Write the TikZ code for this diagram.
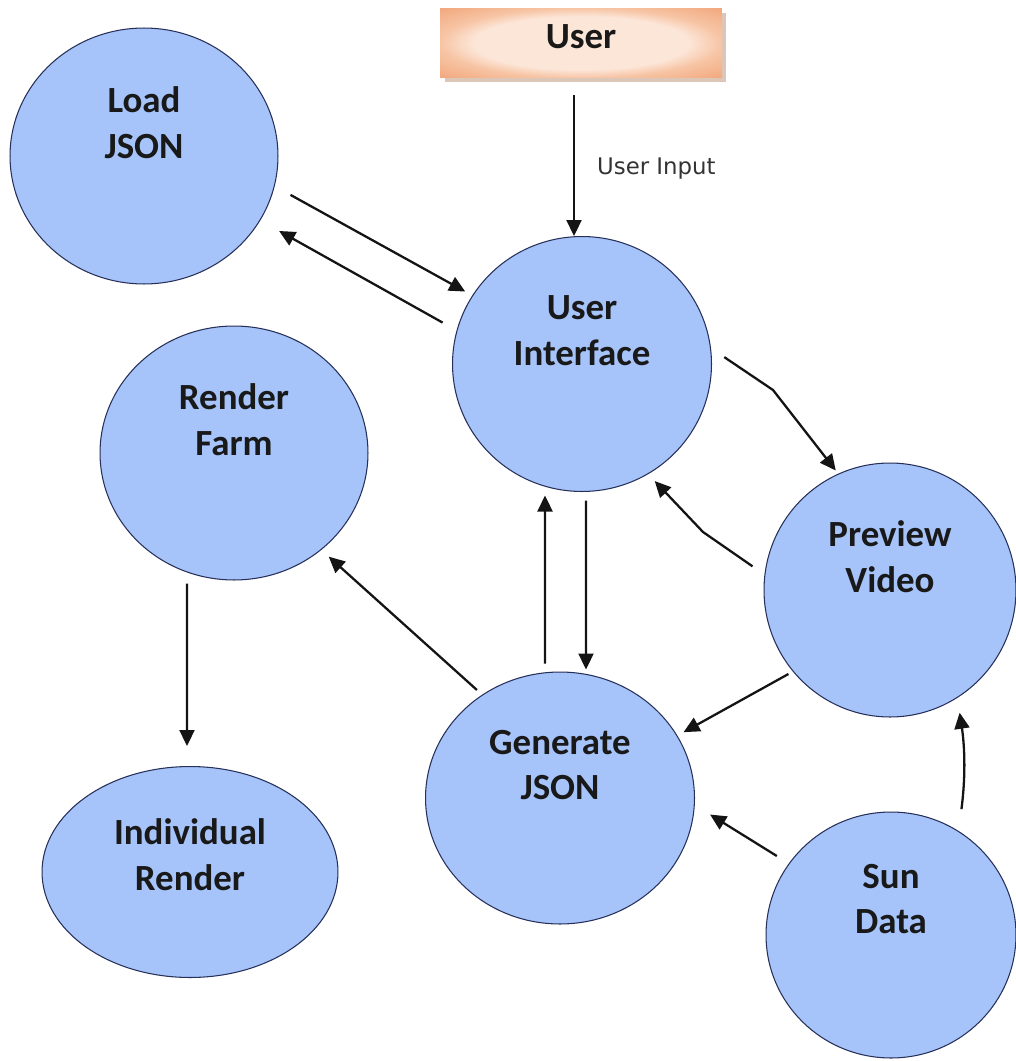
\documentclass[tikz,border=0pt]{standalone}
\usepackage{fontspec}
\setmainfont{Carlito}
\newfontfamily\notefont{DejaVu Sans}
\usepackage{xcolor}
\usepackage{tikz}
\usetikzlibrary{arrows.meta}
\usetikzlibrary{positioning}
\usetikzlibrary{shapes.geometric}
\usetikzlibrary{shadows}

\definecolor{bubblefill}{RGB}{166,196,250}
\definecolor{bubbleline}{RGB}{38,48,88}
\definecolor{peachmid}{RGB}{252,230,216}
\definecolor{peachsoft}{RGB}{247,196,164}
\definecolor{peachedge}{RGB}{240,160,114}
\definecolor{arrowink}{RGB}{20,20,20}
\pgfdeclareradialshading{peachglow}{\pgfpoint{0bp}{0bp}}{color(0bp)=(peachmid); color(19bp)=(peachmid); color(25bp)=(peachsoft); color(38bp)=(peachedge); color(50bp)=(peachedge)}

\begin{document}
\begin{tikzpicture}[x=0.02cm, y=-0.02cm,
		bubble/.style = {ellipse, draw=bubbleline, line width=0.6pt, fill=bubblefill, inner sep=0pt},
		caption/.style = {font=\bfseries\fontsize{21}{26}\selectfont, align=center, text=black!90},
		note/.style = {font=\notefont\fontsize{13}{15}\selectfont, text=black!80, inner sep=0pt},
		actor/.style = {rectangle, shade, shading=peachglow, minimum width=5.64cm, minimum height=1.4cm,
			drop shadow={shadow xshift=0.09cm, shadow yshift=-0.09cm, fill={rgb,255:red,196;green,160;blue,136}, opacity=0.6}}]
		\useasboundingbox (0,0) rectangle (1015,1061);

		\node[actor, label={[caption, yshift=0.12cm]center:User}] (user) at (581,43) {};

		\node[bubble, minimum width=5.36cm, minimum height=5.12cm,
			label={[caption, yshift=0.66cm]center:Load\\JSON}] (load) at (144,156) {};
		\node[bubble, minimum width=5.18cm, minimum height=5.10cm,
			label={[caption, yshift=0.66cm]center:User\\Interface}] (ui) at (582,364) {};
		\node[bubble, minimum width=5.36cm, minimum height=5.08cm,
			label={[caption, yshift=0.66cm]center:Render\\Farm}] (farm) at (234,453) {};
		\node[bubble, minimum width=5.04cm, minimum height=5.08cm,
			label={[caption, yshift=0.66cm]center:Preview\\Video}] (preview) at (890,590) {};
		\node[bubble, minimum width=5.38cm, minimum height=5.04cm,
			label={[caption, yshift=0.66cm]center:Generate\\JSON}] (gen) at (560,798) {};
		\node[bubble, minimum width=5.92cm, minimum height=4.22cm,
			label={[caption, yshift=0.35cm]center:Individual\\Render}] (indiv) at (190,872) {};
		\node[bubble, minimum width=5.00cm, minimum height=4.92cm,
			label={[caption, yshift=0.72cm]center:Sun\\Data}] (sun) at (891,935) {};

		\coordinate (bendA) at (773,390);
		\coordinate (bendB) at (703,532);

		\begin{scope}[>={Triangle[length=0.32cm, width=0.3cm]}, line width=1.3pt, draw=arrowink]
			\draw[->, shorten <=0.34cm] ([xshift=-0.14cm]user.south) -- ([xshift=-0.16cm]ui.north)
				node[note, pos=0.57, right=0.44cm] (input) {User Input};
			\draw[->, shorten <=0.36cm, shorten >=0.16cm] (load.-13) -- (ui.148.6);
			\draw[->, shorten <=0.32cm, shorten >=0.43cm] (ui.165.1) -- (load.-29.7);
			\draw[->, shorten <=0.32cm, shorten >=0.08cm] (ui.7.2) -- (bendA) -- (preview.114);
			\draw[->, shorten <=0.29cm, shorten >=0.19cm] (preview.173.3) -- (bendB) -- (ui.-59);
			\draw[->, shorten <=0.16cm, shorten >=0.07cm] ([xshift=-0.3cm]gen.north) -- ([xshift=-0.74cm]ui.south);
			\draw[->, shorten <=0.17cm, shorten >=0.04cm] ([xshift=0.08cm]ui.south) -- ([xshift=0.52cm]gen.north);
			\draw[->, shorten <=0.14cm, shorten >=0.2cm] (gen.127.5) -- (farm.-48.5);
			\draw[->, shorten <=0.06cm, shorten >=0.4cm] ([xshift=-0.94cm]farm.south) -- ([xshift=-0.06cm]indiv.north);
			\draw[->, shorten <=0.1cm, shorten >=0.14cm] (preview.-140.9) -- (gen.28.2);
			\draw[->, shorten <=0.28cm, shorten >=0.36cm] (sun.145.6) -- (gen.-3.4);
			\draw[->, shorten <=0.44cm, shorten >=0.3cm] (sun.57) to[bend right=8] (preview.-58);
		\end{scope}
	\end{tikzpicture}
\end{document}
